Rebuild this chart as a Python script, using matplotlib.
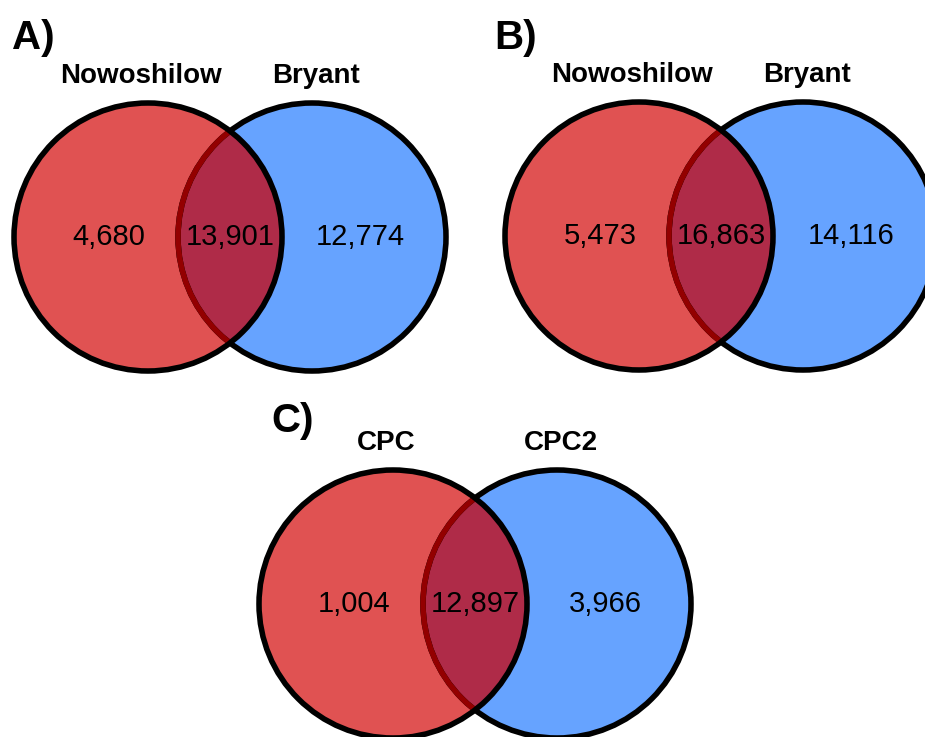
import matplotlib
matplotlib.use("Agg")
import matplotlib.pyplot as plt
from matplotlib.patches import Circle

plt.rcParams['font.family'] = ['Liberation Sans', 'DejaVu Sans']

# counts per panel: (only left, shared, only right)
panel_tags = ["A)", "B)", "C)"]
left_names = ["Nowoshilow", "Nowoshilow", "CPC"]
right_names = ["Bryant", "Bryant", "CPC2"]
only_left = [4680, 5473, 1004]
shared = [13901, 16863, 12897]
only_right = [12774, 14116, 3966]

# layout in pixel units: left circle centre, centre spacing, radius
centres = [(148, 237), (639, 236), (393, 604)]
spacing = 164
radius = 134
tag_pos = [(12, 38), (494, 38), (271, 421)]

RED = "#E05252"
BLUE = "#66A3FF"
MIX = "#AF2B48"
DARK = "#930000"
LW = 4.0

fig = plt.figure(figsize=(9.25, 7.37), dpi=100)
ax = fig.add_axes([0, 0, 1, 1])
ax.set_xlim(0, 925)
ax.set_ylim(737, 0)
ax.set_aspect("equal")
ax.axis("off")

for i in range(3):
    cx, cy = centres[i]
    rx = cx + spacing

    blue = Circle((rx, cy), radius, facecolor=BLUE, edgecolor="none", zorder=1)
    ax.add_patch(blue)
    red = Circle((cx, cy), radius, facecolor=RED, edgecolor="none", zorder=2)
    ax.add_patch(red)

    # overlap region
    lens = Circle((cx, cy), radius, facecolor=MIX, edgecolor="none", zorder=3)
    ax.add_patch(lens)
    lens.set_clip_path(blue)

    # outline of right set, darkened where it runs inside the left set
    ax.add_patch(Circle((rx, cy), radius, facecolor="none", edgecolor="black",
                        lw=LW, zorder=4))
    inner = Circle((rx, cy), radius, facecolor="none", edgecolor=DARK,
                   lw=LW, zorder=5)
    ax.add_patch(inner)
    inner.set_clip_path(red)

    ax.add_patch(Circle((cx, cy), radius, facecolor="none", edgecolor="black",
                        lw=LW, zorder=6))

    # region counts
    ax.text(cx - 39, cy, f"{only_left[i]:,}", ha="center", va="center",
            fontsize=21, zorder=7)
    ax.text(cx + spacing / 2, cy, f"{shared[i]:,}", ha="center", va="center",
            fontsize=21, zorder=7)
    ax.text(rx + 48, cy, f"{only_right[i]:,}", ha="center", va="center",
            fontsize=21, zorder=7)

    # set names
    ly = cy - 161
    ax.text(cx - 7, ly, left_names[i], ha="center", va="center",
            fontsize=20, fontweight="bold", zorder=7)
    ax.text(rx + 4, ly, right_names[i], ha="center", va="center",
            fontsize=20, fontweight="bold", zorder=7)

    tx, ty = tag_pos[i]
    ax.text(tx, ty, panel_tags[i], ha="left", va="center",
            fontsize=29, fontweight="bold", zorder=7)

fig.savefig("out.png", dpi=100)
